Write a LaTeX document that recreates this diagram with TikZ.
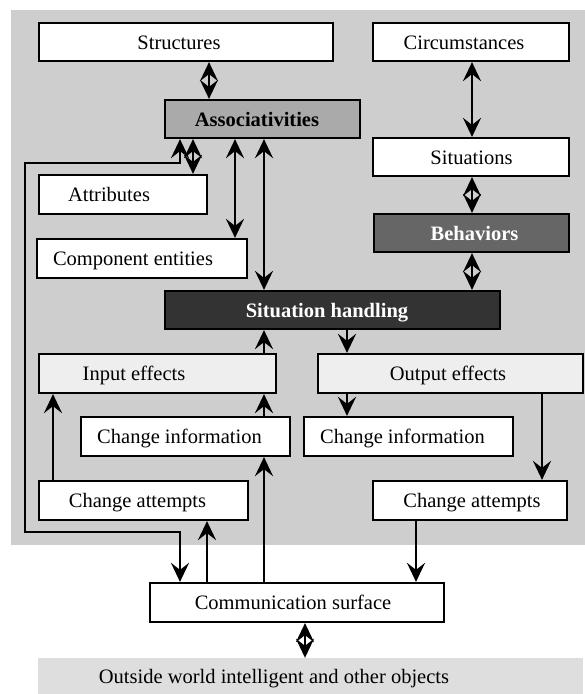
\documentclass[tikz,border=0pt]{standalone}
\usepackage{fontspec}
\setmainfont{Liberation Serif}
\usetikzlibrary{arrows.meta}
\definecolor{bggray}{HTML}{CECECE}
\definecolor{outgray}{HTML}{DEDEDE}
\definecolor{lightbox}{HTML}{EEEEEE}
\definecolor{assocgray}{HTML}{AAAAAA}
\definecolor{behavgray}{HTML}{666666}
\definecolor{shgray}{HTML}{333333}
\tikzset{
  box/.style={draw=black, line width=2.2pt, fill=white, inner sep=0pt},
  lbl/.style={inner sep=0pt, anchor=base, font=\fontsize{20.5}{24}\selectfont},
  blbl/.style={lbl, font=\fontsize{20.5}{24}\selectfont\bfseries},
  conn/.style={line width=2.8pt, arrows={-Stealth[length=19pt,width=18pt,inset=7pt]}},
  bconn/.style={line width=2.8pt, arrows={Stealth[length=19pt,width=18pt,inset=7pt]-Stealth[length=19pt,width=18pt,inset=7pt]}},
}
\begin{document}
\begin{tikzpicture}[x=1pt,y=-1pt]
\useasboundingbox (0,0) rectangle (585,694);
\fill[bggray] (11,10) rectangle (585,545);

% boxes
\node[box, minimum width=294, minimum height=38] (struct) at (186,42) {};
\node[box, minimum width=196, minimum height=38] (circ) at (471,42) {};
\node[box, fill=assocgray, minimum width=195, minimum height=38] (assoc) at (262.5,119) {};
\node[box, minimum width=196, minimum height=38] (situ) at (471,157) {};
\node[box, fill=behavgray, minimum width=195, minimum height=38] (behav) at (471.5,233) {};
\node[box, minimum width=168, minimum height=39] (attr) at (123,194.5) {};
\node[box, minimum width=210, minimum height=39] (comp) at (142,258.5) {};
\node[box, fill=shgray, minimum width=335, minimum height=38] (sh) at (332.5,310) {};
\node[box, fill=lightbox, minimum width=237, minimum height=39] (inp) at (157.5,373.5) {};
\node[box, fill=lightbox, minimum width=265, minimum height=39] (outp) at (450.5,373.5) {};
\node[box, minimum width=209, minimum height=39] (cil) at (185.5,436.5) {};
\node[box, minimum width=209, minimum height=39] (cir) at (408.5,436.5) {};
\node[box, minimum width=209, minimum height=39] (cal) at (143.5,500.5) {};
\node[box, minimum width=194, minimum height=39] (car) at (470,500.5) {};
\node[box, minimum width=294, minimum height=39] (comm) at (297,602.5) {};
\node[fill=outgray, inner sep=0pt, minimum width=545, minimum height=36] (out) at (310.5,676) {};

% labels
\node[lbl] (tstruct) at (179,49) {Structures};
\node[lbl] (tcirc) at (464,49) {Circumstances};
\node[blbl] (tassoc) at (257,126) {Associativities};
\node[lbl] (tsitu) at (471.5,164) {Situations};
\node[blbl, text=white] (tbehav) at (474.5,240) {Behaviors};
\node[lbl] (tattr) at (109,201.5) {Attributes};
\node[lbl] (tcomp) at (133,265.5) {Component entities};
\node[blbl, text=white] (tsh) at (327,317) {Situation handling};
\node[lbl] (tinp) at (134,380.5) {Input effects};
\node[lbl] (toutp) at (448,380.5) {Output effects};
\node[lbl] (tcil) at (179.5,443.5) {Change information};
\node[lbl] (tcir) at (402.5,443.5) {Change information};
\node[lbl] (tcal) at (137.5,507.5) {Change attempts};
\node[lbl] (tcar) at (472,507.5) {Change attempts};
\node[lbl] (tcomm) at (293,609.5) {Communication surface};
\node[lbl] (tout) at (274,683) {Outside world intelligent and other objects};

% column coordinates
\coordinate (c25) at (25,0);
\coordinate (c53) at (53,0);
\coordinate (c180) at (180,0);
\coordinate (c193) at (193,0);
\coordinate (c207) at (207,0);
\coordinate (c209) at (209,0);
\coordinate (c235) at (235,0);
\coordinate (c264) at (264,0);
\coordinate (c305) at (305,0);
\coordinate (c347) at (347,0);
\coordinate (c416) at (416,0);
\coordinate (c472) at (472,0);
\coordinate (c542) at (542,0);
\coordinate (r163) at (0,163);
\coordinate (r532) at (0,532);

% connectors
\draw[bconn] (c209 |- struct.south) -- (c209 |- assoc.north);
\draw[bconn] (c472 |- circ.south) -- (c472 |- situ.north);
\draw[bconn] (c472 |- situ.south) -- (c472 |- behav.north);
\draw[bconn] (c472 |- behav.south) -- (c472 |- sh.north);
\draw[bconn] (c193 |- assoc.south) -- (c193 |- attr.north);
\draw[bconn] (c235 |- assoc.south) -- (c235 |- comp.north);
\draw[bconn] (c264 |- assoc.south) -- (c264 |- sh.north);
\draw[bconn] (c180 |- assoc.south) -- (c180 |- r163) -- (c25 |- r163) -- (c25 |- r532) -- (c180 |- r532) -- (c180 |- comm.north);
\draw[conn] (c53 |- cal.north) -- (c53 |- inp.south);
\draw[conn] (c207 |- comm.north) -- (c207 |- cal.south);
\draw[conn] (c264 |- comm.north) -- (c264 |- cil.south);
\draw[conn] (c264 |- cil.north) -- (c264 |- inp.south);
\draw[conn] (c264 |- inp.north) -- (c264 |- sh.south);
\draw[conn] (c347 |- sh.south) -- (c347 |- outp.north);
\draw[conn] (c347 |- outp.south) -- (c347 |- cir.north);
\draw[conn] (c542 |- outp.south) -- (c542 |- car.north);
\draw[conn] (c416 |- car.south) -- (c416 |- comm.north);
\draw[bconn] (c305 |- comm.south) -- (c305 |- out.north);
\end{tikzpicture}
\end{document}
